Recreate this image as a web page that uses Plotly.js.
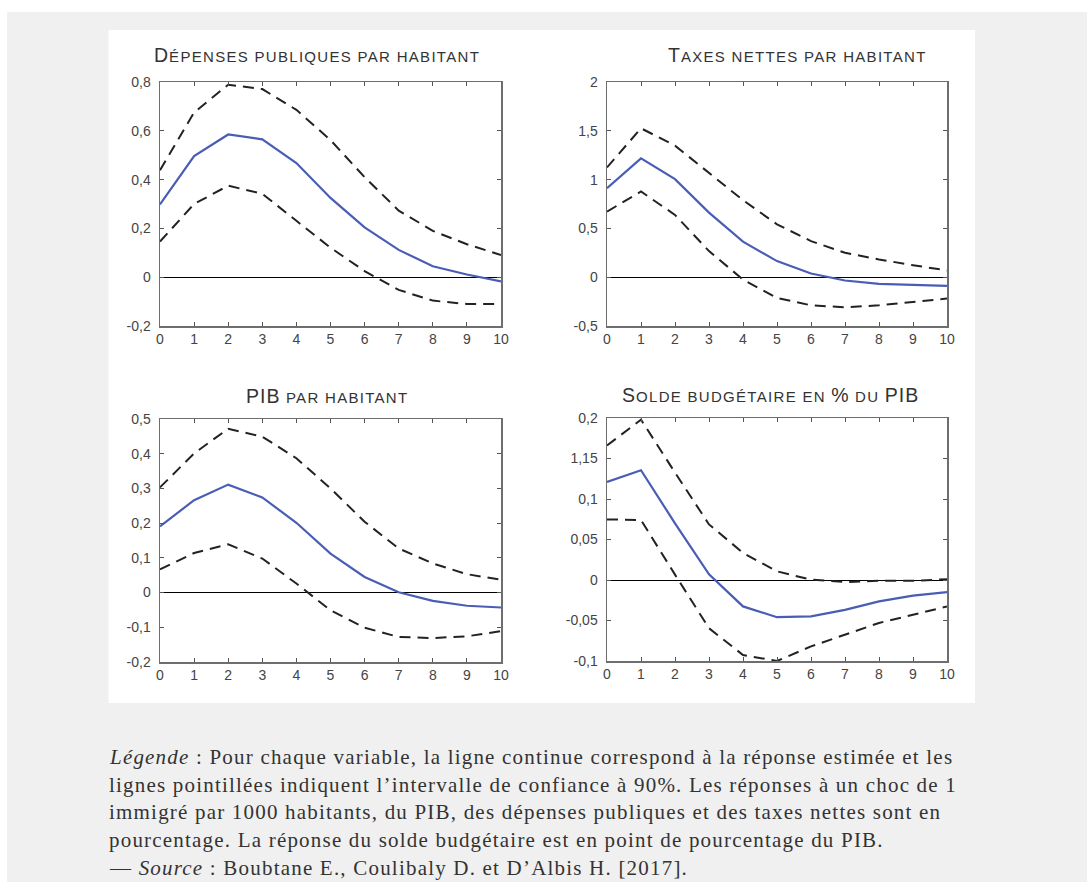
<!DOCTYPE html>
<html><head><meta charset="utf-8">
<script src="https://cdn.plot.ly/plotly-3.0.1.min.js"></script>
<style>html,body{margin:0;padding:0;background:#fff;}#chart{width:1087px;height:882px;}</style>
</head><body><div id="chart"></div>
<script>
// ---- data ----
const horizons = [0,1,2,3,4,5,6,7,8,9,10];

const depensesEst   = [0.298,0.496,0.585,0.565,0.468,0.325,0.204,0.112,0.045,0.011,-0.017];
const depensesHaut  = [0.438,0.675,0.789,0.771,0.686,0.562,0.410,0.273,0.190,0.135,0.091];
const depensesBas   = [0.146,0.300,0.375,0.342,0.231,0.121,0.025,-0.052,-0.096,-0.110,-0.110];

const taxesEst  = [0.912,1.217,1.005,0.662,0.364,0.165,0.038,-0.034,-0.069,-0.082,-0.089];
const taxesHaut = [1.125,1.526,1.348,1.073,0.789,0.542,0.370,0.250,0.182,0.123,0.069];
const taxesBas  = [0.672,0.878,0.638,0.267,-0.024,-0.213,-0.288,-0.309,-0.288,-0.254,-0.219];

const pibEst  = [0.191,0.266,0.311,0.274,0.201,0.112,0.045,0.001,-0.024,-0.038,-0.043];
const pibHaut = [0.303,0.401,0.472,0.449,0.387,0.300,0.204,0.127,0.084,0.053,0.037];
const pibBas  = [0.067,0.114,0.139,0.098,0.026,-0.051,-0.101,-0.128,-0.131,-0.126,-0.111];

const soldeEst  = [0.121,0.1355,0.070,0.007,-0.0326,-0.0459,-0.045,-0.0368,-0.0264,-0.0194,-0.0149];
const soldeHaut = [0.166,0.198,0.1326,0.0686,0.0335,0.0107,0.0004,-0.0025,-0.001,-0.001,0.001];
const soldeBas  = [0.0748,0.074,0.0066,-0.0595,-0.0926,-0.100,-0.082,-0.0678,-0.053,-0.043,-0.0326];

// titles in small capitals: [large part, small part, large part, ...]
const titleParts = [
  ["D", "ÉPENSES PUBLIQUES PAR HABITANT"],
  ["T", "AXES NETTES PAR HABITANT"],
  ["PIB", " PAR HABITANT"],
  ["S", "OLDE BUDGÉTAIRE EN ", "%", " DU ", "PIB"]
];

const xTickVals = [0,1,2,3,4,5,6,7,8,9,10];
const xTickText = ["0","1","2","3","4","5","6","7","8","9","10"];
const y1Vals = [-0.2,0,0.2,0.4,0.6,0.8];       const y1Text = ["-0,2","0","0,2","0,4","0,6","0,8"];
const y2Vals = [-0.5,0,0.5,1,1.5,2];           const y2Text = ["-0,5","0","0,5","1","1,5","2"];
const y3Vals = [-0.2,-0.1,0,0.1,0.2,0.3,0.4,0.5]; const y3Text = ["-0,2","-0,1","0","0,1","0,2","0,3","0,4","0,5"];
const y4Vals = [-0.1,-0.05,0,0.05,0.1,0.15,0.2];  const y4Text = ["-0,1","-0,05","0","0,05","0,1","1,15","0,2"];

const captionLines = [
  "<i>Légende</i> : Pour chaque variable, la ligne continue correspond à la réponse estimée et les",
  "lignes pointillées indiquent l’intervalle de confiance à 90%. Les réponses à un choc de 1",
  "immigré par 1000 habitants, du PIB, des dépenses publiques et des taxes nettes sont en",
  "pourcentage. La réponse du solde budgétaire est en point de pourcentage du PIB.",
  "— <i>Source</i> : Boubtane E., Coulibaly D. et D’Albis H. [2017]."
];

// ---- layout helpers ----
const W = 1087, H = 882;
const fx = p => p / W;
const fy = p => 1 - p / H;

const blue = "#4a5db5";
const dashCol = "#222222";

const panels = [
  {est: depensesEst, hi: depensesHaut, lo: depensesBas, range: [-0.2,0.8], tv: y1Vals, tt: y1Text,
   box: [160,501,82,326], title: [317,55]},
  {est: taxesEst, hi: taxesHaut, lo: taxesBas, range: [-0.5,2], tv: y2Vals, tt: y2Text,
   box: [607,947,82,326], title: [797,55]},
  {est: pibEst, hi: pibHaut, lo: pibBas, range: [-0.2,0.5], tv: y3Vals, tt: y3Text,
   box: [160,501,419,662], title: [327,396]},
  {est: soldeEst, hi: soldeHaut, lo: soldeBas, range: [-0.1,0.2], tv: y4Vals, tt: y4Text,
   box: [607,947,418,661], title: [770,395]}
];

function smallCaps(parts) {
  return parts.map((s, k) => k % 2 === 0
    ? '<span style="font-size:19.5px;letter-spacing:1px">' + s + '</span>'
    : '<span style="font-size:15px;letter-spacing:1.3px">' + s + '</span>').join("");
}

const traces = [];
const layout = {
  width: W, height: H,
  margin: {l:0, r:0, t:0, b:0},
  paper_bgcolor: "rgba(0,0,0,0)",
  plot_bgcolor: "#ffffff",
  showlegend: false,
  font: {family: "Liberation Sans, Arial, sans-serif", color: "#444", size: 12},
  shapes: [
    {type:"rect", xref:"paper", yref:"paper", x0: fx(7), x1: 1, y0: 0, y1: fy(12),
     fillcolor:"#f0f0f0", line:{width:0}, layer:"below"},
    {type:"rect", xref:"paper", yref:"paper", x0: fx(108.5), x1: fx(975), y0: fy(703), y1: fy(30),
     fillcolor:"#ffffff", line:{width:0}, layer:"below"}
  ],
  annotations: []
};

panels.forEach((p, i) => {
  const n = i + 1;
  const sfx = n === 1 ? "" : String(n);
  const dash = {color: dashCol, width: 2, dash: "11px,7px"};
  traces.push({x: horizons, y: p.hi, xaxis: "x" + sfx, yaxis: "y" + sfx, mode: "lines", line: dash, hoverinfo: "skip"});
  traces.push({x: horizons, y: p.lo, xaxis: "x" + sfx, yaxis: "y" + sfx, mode: "lines", line: dash, hoverinfo: "skip"});
  traces.push({x: horizons, y: p.est, xaxis: "x" + sfx, yaxis: "y" + sfx, mode: "lines", line: {color: blue, width: 2.2}, hoverinfo: "skip"});
  const axisCommon = {
    showgrid: false, showline: true, linecolor: "#6e6e6e", linewidth: 1.5, mirror: "ticks",
    ticks: "inside", ticklen: 4, tickwidth: 1, tickcolor: "#555",
    tickfont: {family: "Liberation Sans, Arial, sans-serif", size: 14, color: "#444"}
  };
  layout["xaxis" + sfx] = Object.assign({}, axisCommon, {
    domain: [fx(p.box[0]), fx(p.box[1])], anchor: "y" + sfx,
    range: [0, 10], tickvals: xTickVals, ticktext: xTickText, zeroline: false
  });
  layout["yaxis" + sfx] = Object.assign({}, axisCommon, {
    domain: [fy(p.box[3]), fy(p.box[2])], anchor: "x" + sfx,
    range: p.range, tickvals: p.tv, ticktext: p.tt, ticklabelstandoff: 5,
    zeroline: true, zerolinecolor: "#000", zerolinewidth: 1
  });
  layout.annotations.push({
    text: smallCaps(titleParts[i]), xref: "paper", yref: "paper", x: fx(p.title[0]), y: fy(p.title[1]),
    xanchor: "center", yanchor: "middle", showarrow: false,
    font: {family: "Liberation Sans, Arial, sans-serif", size: 19, color: "#333"}
  });
});

const capY = [757, 785, 812, 840, 868];
captionLines.forEach((t, i) => {
  layout.annotations.push({
    text: '<span style="letter-spacing:1.2px">' + t + '</span>',
    xref: "paper", yref: "paper", x: fx(107), y: fy(capY[i]),
    xanchor: "left", yanchor: "middle", showarrow: false, align: "left",
    font: {family: "Liberation Serif, Times New Roman, serif", size: 21, color: "#333"}
  });
});

Plotly.newPlot("chart", traces, layout, {displayModeBar: false, staticPlot: true});
</script></body></html>
